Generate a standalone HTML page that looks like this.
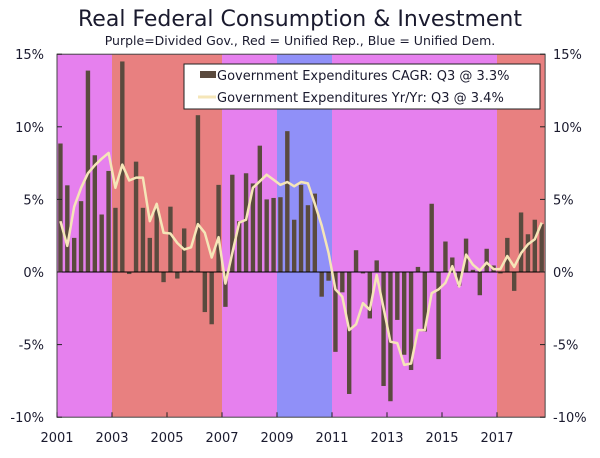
<!DOCTYPE html>
<html><head><meta charset="utf-8"><style>
body{margin:0;background:#fff;}
svg text{font-family:"DejaVu Sans","Liberation Sans",sans-serif;fill:#1a1a2e;}
</style></head><body>
<svg id="chart" width="600" height="453" xmlns="http://www.w3.org/2000/svg">
<text x="300" y="26" font-size="22" text-anchor="middle">Real Federal Consumption &amp; Investment</text>
<text x="300" y="45" font-size="12.5" text-anchor="middle">Purple=Divided Gov., Red = Unified Rep., Blue = Unified Dem.</text>
<g id="bands"></g>
<g id="bars"></g>
<line x1="57" y1="272" x2="545" y2="272" stroke="#000" stroke-width="1"/>
<g id="line"></g>
<g id="axes"></g>
<g>
<rect x="184" y="64" width="356" height="45" fill="#fff" stroke="#222" stroke-width="1"/>
<g><rect x="200" y="71" width="16" height="7" fill="#5a4a3e"/><text x="217" y="80" font-size="13">Government Expenditures CAGR: Q3 @ 3.3%</text></g>
<g><line x1="198" y1="97" x2="216" y2="97" stroke="#f5e6b8" stroke-width="3"/><text x="217" y="102" font-size="13">Government Expenditures Yr/Yr: Q3 @ 3.4%</text></g>
</g>
</svg>
<script>
const cagr=[8.85,5.97,2.35,4.88,13.87,8.04,3.96,6.96,4.42,14.5,-0.14,7.6,4.42,2.35,4.5,-0.7,4.5,-0.45,3.0,0.1,10.8,-2.76,-3.6,6.0,
-2.4,6.7,3.5,6.8,6.1,8.7,5.0,5.1,5.15,9.7,3.6,6.0,4.6,5.4,-1.7,-0.6,-5.5,-1.4,-8.4,1.5,-0.1,-3.2,0.8,-7.85,-8.9,-3.3,-5.7,-6.75,0.35,-4.1,4.7,-6.0,2.1,1.0,-0.95,2.3,0.15,-1.6,1.6,0.45,-0.1,2.35,-1.3,4.1,2.6,3.6,3.3];
const yoy=[3.5,1.8,4.5,5.8,6.8,7.35,7.8,8.2,5.8,7.4,6.3,6.5,6.5,3.5,4.7,2.7,2.65,2.0,1.55,1.7,3.3,2.7,1.0,2.4,
-0.8,1.3,3.4,3.6,5.8,6.25,6.7,6.35,6.0,6.2,5.9,6.2,6.1,4.7,3.2,1.3,-1.2,-1.7,-4.0,-3.6,-2.15,-2.6,-0.2,-2.5,-4.8,-4.9,-6.4,-6.3,-4.0,-4.0,-1.45,-1.2,-0.75,0.4,-1.0,1.2,0.5,0.1,0.65,0.2,0.2,1.1,0.35,1.3,1.9,2.25,3.4];
const bandStart=[2001,2003,2007,2009,2011,2017];
const bandEnd=[2003,2007,2009,2011,2017,2018.75];
const bandColor=["#e680ee","#e88080","#e680ee","#9090f8","#e680ee","#e88080"];
const yTicks=[15,10,5,0,-5,-10];
const xTicks=[2001,2003,2005,2007,2009,2011,2013,2015,2017];
const NS="http://www.w3.org/2000/svg";
const X=y=>57+(y-2001)*27.5;
const Y=v=>272-v*14.52;
function mk(t,a,p){const e=document.createElementNS(NS,t);for(const k in a)e.setAttribute(k,a[k]);p.appendChild(e);return e;}
const bands=document.getElementById('bands');
bandStart.forEach((s,i)=>{const r=mk('rect',{x:X(s),y:Y(15),width:X(bandEnd[i])-X(s),height:Y(-10)-Y(15),fill:bandColor[i]},bands);

});
const bars=document.getElementById('bars');
const qw=27.5/4;
cagr.forEach((v,i)=>{const cx=X(2001)+qw*(i+0.5);const r=mk('rect',{x:cx-2.2,y:Math.min(Y(v),Y(0)),width:4.4,height:Math.abs(Y(v)-Y(0)),fill:'#5a4a3e'},bars);

});
const pts=yoy.map((v,i)=>(X(2001)+qw*(i+0.5)).toFixed(1)+','+Y(v).toFixed(1)).join(' ');
const pl=mk('polyline',{points:pts,fill:'none',stroke:'#f5e6b8','stroke-width':2.5,'stroke-linejoin':'round'},document.getElementById('line'));


const ax=document.getElementById('axes');
mk('rect',{x:57,y:Y(15),width:X(2018.75)-57,height:Y(-10)-Y(15),fill:'none',stroke:'#444','stroke-width':1},ax);
yTicks.forEach(t=>{const y=Y(t);
mk('line',{x1:57,y1:y,x2:62,y2:y,stroke:'#222'},ax);mk('line',{x1:540,y1:y,x2:545,y2:y,stroke:'#222'},ax);
const l=mk('text',{x:44,y:y+5,'font-size':13,'text-anchor':'end'},ax);l.textContent=t+'%';


const r=mk('text',{x:553,y:y+5,'font-size':13},ax);r.textContent=t+'%';

});
xTicks.forEach(t=>{const x=X(t);mk('line',{x1:x,y1:Y(-10),x2:x,y2:Y(-10)-5,stroke:'#222'},ax);
const l=mk('text',{x:x,y:442,'font-size':13,'text-anchor':'middle'},ax);l.textContent=t;

});
</script>
</body></html>
